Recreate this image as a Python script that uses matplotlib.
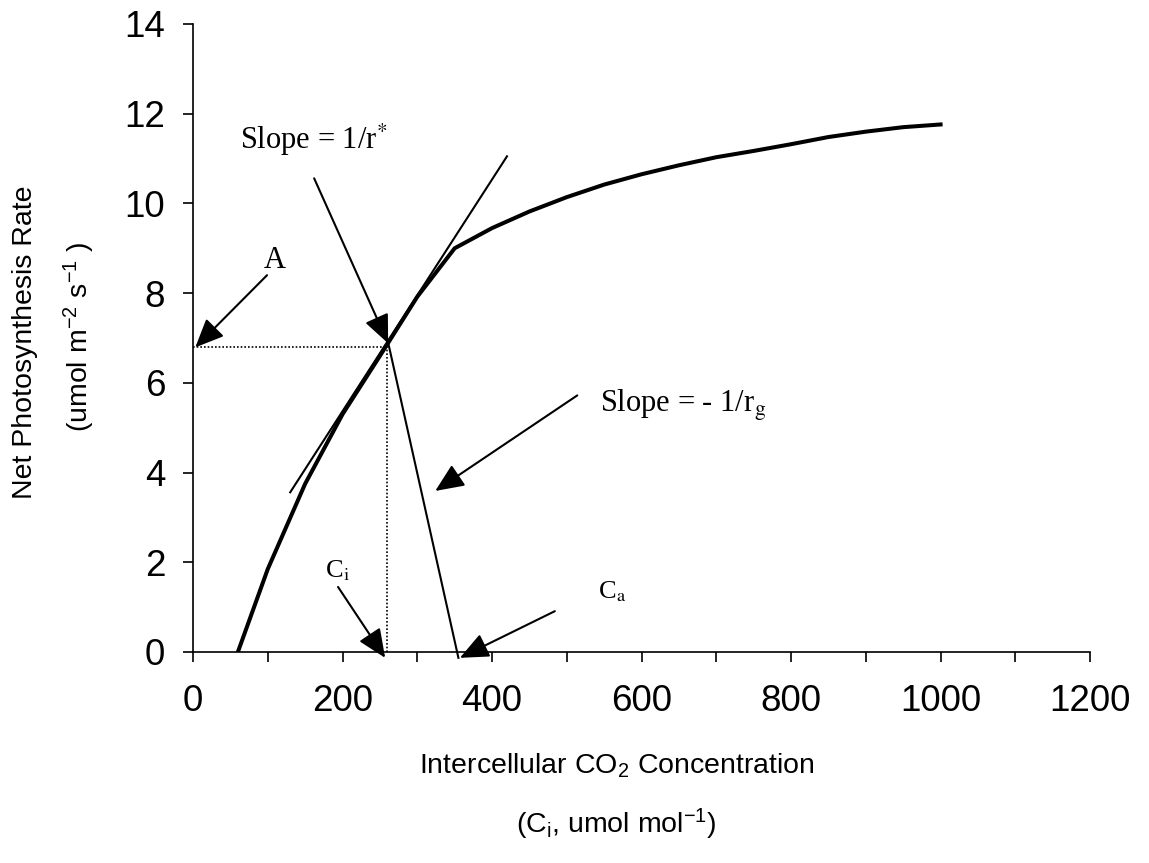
import matplotlib
matplotlib.use('Agg')
import numpy as np
from matplotlib import pyplot as plt
from matplotlib.ticker import MultipleLocator

# response curve A vs Ci
ci = [60, 100, 150, 200, 250, 300, 350, 400, 450, 500, 550, 600, 650, 700, 750, 800, 850, 900, 950, 1000]
a_net = [0, 1.85, 3.75, 5.3, 6.6, 7.92, 9.0, 9.45, 9.82, 10.14, 10.42, 10.65, 10.85, 11.03, 11.17, 11.32, 11.48, 11.6, 11.7, 11.76]

# operating point
ci_op = 260
a_op = 6.8

# tangent (slope = 1/r*) and supply line (slope = -1/rg)
tangent_x = [130, 420]
tangent_y = [3.56, 11.05]
supply_x = [261, 355]
supply_y = [6.9, -0.13]

# labels: text, x, y, size
labels = [
    ('A', 95, 8.55, 22),
    ('Slope = 1/r$^{*}$', 63, 11.22, 22),
    ('Slope = - 1/r$_{\\mathrm{g}}$', 544, 5.35, 22),
    ('C$_{\\mathrm{i}}$', 177, 1.67, 19),
    ('C$_{\\mathrm{a}}$', 542, 1.2, 19),
]
# arrows: start (x, y), tip (x, y)
arrows = [
    ((99, 8.4), (3, 6.79)),
    ((162, 10.56), (261, 6.88)),
    ((514, 5.72), (324, 3.59)),
    ((194, 1.45), (257, -0.13)),
    ((484, 0.91), (357, -0.13)),
]

plt.rcParams['font.family'] = ['Liberation Sans', 'DejaVu Sans']
plt.rcParams['mathtext.fontset'] = 'custom'
plt.rcParams['mathtext.rm'] = 'Liberation Sans'
plt.rcParams['mathtext.it'] = 'Liberation Sans:italic'
plt.rcParams['mathtext.bf'] = 'Liberation Sans:bold'

fig = plt.figure(figsize=(11.49, 8.63), dpi=100)
ax = fig.add_axes([0.168, 0.2445, 0.7807, 0.7277])

ax.plot(ci, a_net, color='black', lw=2.9, solid_joinstyle='miter', zorder=3)
ax.plot(tangent_x, tangent_y, color='black', lw=1.5)
ax.plot(supply_x, supply_y, color='black', lw=1.5, clip_on=False)
ax.plot([0, ci_op], [a_op, a_op], color='black', lw=1.2, linestyle=(0, (1, 1.2)))
ax.plot([ci_op, ci_op], [0, a_op], color='black', lw=1.2, linestyle=(0, (1, 1.2)))

for txt, x, y, size in labels:
    ax.text(x, y, txt, fontsize=size, family='Liberation Serif',
            math_fontfamily='stix', ha='left', va='baseline')

for start, tip in arrows:
    ax.annotate('', xy=tip, xytext=start, annotation_clip=False,
                arrowprops=dict(arrowstyle='-|>,head_length=0.8,head_width=0.35',
                                mutation_scale=22, color='black', lw=1.5,
                                shrinkA=0, shrinkB=0))

ax.set_xlim(0, 1200)
ax.set_ylim(0, 14)
ax.xaxis.set_major_locator(MultipleLocator(200))
ax.xaxis.set_minor_locator(MultipleLocator(100))
ax.set_yticks(np.arange(0, 15, 2))
ax.spines['top'].set_visible(False)
ax.spines['right'].set_visible(False)
ax.spines['left'].set_linewidth(1.2)
ax.spines['bottom'].set_linewidth(1.2)
ax.tick_params(axis='x', which='both', direction='out', length=7, width=1.2, labelsize=26.5, pad=16)
ax.tick_params(axis='y', direction='out', length=7, width=1.2, labelsize=26.5, pad=13)

fig.text(617 / 1149, 1 - 773 / 863, 'Intercellular CO$_{2}$ Concentration', fontsize=20.5,
         ha='center', va='baseline')
fig.text(616 / 1149, 1 - 833 / 863, '(C$_{\\mathrm{i}}$, umol mol$^{-1}$)', fontsize=20.5,
         ha='center', va='baseline')
fig.text(25 / 1149, 1 - 342 / 863, 'Net Photosynthesis Rate', fontsize=20.5,
         rotation=90, ha='center', va='center')
fig.text(79 / 1149, 1 - 337 / 863, '(umol m$^{-2}$ s$^{-1}$ )', fontsize=20.5,
         rotation=90, ha='center', va='center')

plt.savefig('out.png', dpi=100)
